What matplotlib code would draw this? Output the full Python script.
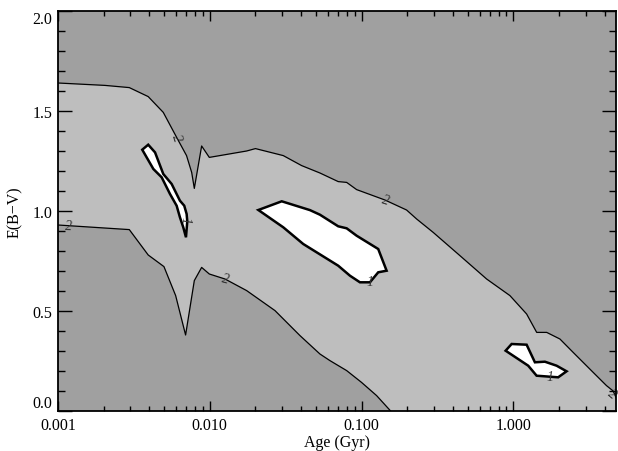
import numpy as np
import matplotlib
matplotlib.use("Agg")
import matplotlib.pyplot as plt
from matplotlib.ticker import FixedLocator, FuncFormatter, MultipleLocator, LogLocator

# ---- data (age in Gyr, E(B-V)) ----
# upper boundary of the "2" contour (left -> right)
upper2_age = [0.001, 0.00204, 0.00295, 0.00393, 0.00494, 0.00605, 0.00703, 0.0076, 0.00791,
              0.00884, 0.00993, 0.0175, 0.0200, 0.0305, 0.0403, 0.0532, 0.0702, 0.0798,
              0.0928, 0.1426, 0.198, 0.2307, 0.2966, 0.4446, 0.667, 0.950, 1.224, 1.426,
              1.66, 2.028, 2.48, 3.36, 4.11, 4.55, 4.8]
upper2_ebv = [1.64, 1.628, 1.617, 1.572, 1.493, 1.368, 1.277, 1.193, 1.113,
              1.325, 1.268, 1.30, 1.312, 1.277, 1.227, 1.19, 1.147, 1.143,
              1.107, 1.055, 1.005, 0.96, 0.893, 0.777, 0.66, 0.577, 0.485, 0.393,
              0.393, 0.36, 0.293, 0.193, 0.127, 0.10, 0.06]
# lower boundary of the "2" contour (left -> right)
lower2_age = [0.001, 0.00295, 0.00393, 0.00499, 0.00596, 0.00693, 0.00791, 0.00884, 0.00993,
              0.0126, 0.0175, 0.0269, 0.0393, 0.0532, 0.0619, 0.0798, 0.1, 0.1257, 0.1555]
lower2_ebv = [0.93, 0.907, 0.78, 0.722, 0.577, 0.38, 0.652, 0.718, 0.685,
              0.66, 0.602, 0.502, 0.377, 0.285, 0.252, 0.202, 0.143, 0.077, 0.0]

# "1" contour islands
blob1_age = [0.00359, 0.00393, 0.00436, 0.00494, 0.00561, 0.00636, 0.00679, 0.00704, 0.00711,
             0.00697, 0.00669, 0.00636, 0.00605, 0.00547, 0.00482, 0.00425]
blob1_ebv = [1.3065, 1.3315, 1.293, 1.185, 1.135, 1.0515, 1.0265, 0.985, 0.9485,
             0.8685, 0.9185, 0.9685, 1.0265, 1.085, 1.1685, 1.21]
blob2_age = [0.0209, 0.0298, 0.0457, 0.0532, 0.0702, 0.0798, 0.0928, 0.1288, 0.1463,
             0.1288, 0.1136, 0.0976, 0.0839, 0.0702, 0.0413, 0.0305]
blob2_ebv = [1.005, 1.0485, 1.0045, 0.9815, 0.9235, 0.9135, 0.8765, 0.81, 0.7015,
             0.6935, 0.6435, 0.6435, 0.6765, 0.7265, 0.835, 0.9185]
blob3_age = [0.890, 0.975, 1.224, 1.388, 1.615, 1.929, 2.244, 1.976, 1.742, 1.424, 1.254]
blob3_ebv = [0.3015, 0.335, 0.3315, 0.2435, 0.2465, 0.2265, 0.1985, 0.1685, 0.1715, 0.1765, 0.2265]

x_ticks = [0.001, 0.01, 0.1, 1.0]
x_ticklabels = ["0.001", "0.010", "0.100", "1.000"]
y_ticks = [0.0, 0.5, 1.0, 1.5, 2.0]
y_ticklabels = ["0.0", "0.5", "1.0", "1.5", "2.0"]
x_min, x_max = 0.001, 4.75
y_min, y_max = 0.0, 2.0

dark = "#a0a0a0"
light = "#bebebe"

plt.rcParams['font.family'] = ['Liberation Serif', 'DejaVu Serif']

fig = plt.figure(figsize=(6.18, 4.52), dpi=100)
ax = fig.add_axes([58/618, 40/452, 558/618, 400/452])
ax.set_xscale('log')
ax.set_xlim(x_min, x_max)
ax.set_ylim(y_min, y_max)
ax.set_facecolor(dark)

# light region between the two "2" boundaries (closed through the lower-right corner)
xe = x_max * 1.1
poly_x = list(upper2_age) + [xe, xe] + list(lower2_age[::-1])
poly_y = list(upper2_ebv) + [upper2_ebv[-1], -0.1] + list(lower2_ebv[::-1])
poly_x.insert(len(upper2_age) + 2, lower2_age[-1])
poly_y.insert(len(upper2_age) + 2, -0.1)
ax.fill(poly_x, poly_y, color=light, lw=0, zorder=1)

ax.plot(upper2_age, upper2_ebv, color='black', lw=0.9, zorder=3)
ax.plot(lower2_age, lower2_ebv, color='black', lw=0.9, zorder=3)

for bx, by in [(blob1_age, blob1_ebv), (blob2_age, blob2_ebv), (blob3_age, blob3_ebv)]:
    ax.fill(bx, by, facecolor='white', edgecolor='black', lw=1.8, zorder=4, joinstyle='miter')

lab_kw = dict(fontsize=10, color='#333333', style='italic', ha='center', va='center', zorder=5)
ax.text(0.00118, 0.925, "2", rotation=-2, **lab_kw)
ax.text(0.00605, 1.37, "2", rotation=-72, **lab_kw)
ax.text(0.0126, 0.66, "2", rotation=-15, **lab_kw)
ax.text(0.1426, 1.055, "2", rotation=-18, **lab_kw)
ax.text(4.45, 0.085, "2", rotation=-40, **lab_kw)
ax.text(0.0069, 0.955, "1", rotation=-90, **lab_kw)
ax.text(0.1136, 0.645, "1", rotation=0, **lab_kw)
ax.text(1.742, 0.172, "1", rotation=0, **lab_kw)

ax.xaxis.set_major_locator(FixedLocator(x_ticks))
ax.xaxis.set_major_formatter(FuncFormatter(lambda v, p: x_ticklabels[x_ticks.index(v)] if v in x_ticks else ""))
ax.xaxis.set_minor_locator(LogLocator(base=10, subs=np.arange(2, 10), numticks=20))
ax.xaxis.set_minor_formatter(FuncFormatter(lambda v, p: ""))
ax.yaxis.set_major_locator(FixedLocator(y_ticks))
ylabs = ax.set_yticklabels(y_ticklabels)
ylabs[0].set_va('bottom')
ylabs[-1].set_va('top')
ax.yaxis.set_minor_locator(MultipleLocator(0.1))

ax.tick_params(which='both', direction='in', top=True, right=True, width=1.0, labelsize=11.5, zorder=6)
ax.xaxis.set_tick_params(which='major', length=7, pad=4)
ax.xaxis.set_tick_params(which='minor', length=3.5)
ax.yaxis.set_tick_params(which='major', length=10, pad=4)
ax.yaxis.set_tick_params(which='minor', length=5)
for s in ax.spines.values():
    s.set_linewidth(1.3)
    s.set_zorder(7)

fig.text(337/618, 1 - 443/452, "Age (Gyr)", fontsize=11.5, ha='center', va='center')
ax.set_ylabel("E(B\u2212V)", fontsize=11.5, labelpad=7)

fig.savefig("out.png", dpi=100)
